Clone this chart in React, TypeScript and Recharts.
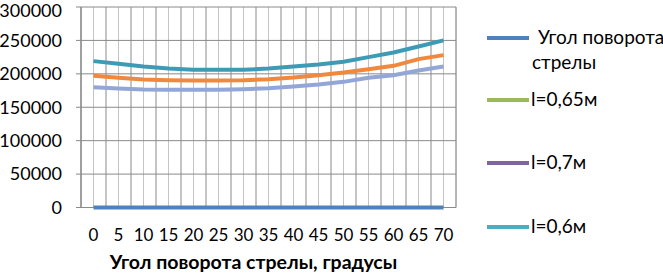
import { LineChart, Line, XAxis, YAxis, CartesianGrid } from 'recharts';

const angles = [0, 5, 10, 15, 20, 25, 30, 35, 40, 45, 50, 55, 60, 65, 70];
const rotation = [0, 0, 0, 0, 0, 0, 0, 0, 0, 0, 0, 0, 0, 0, 0];
const l06 = [219000, 215000, 211000, 208000, 206000, 206000, 206000, 208000, 211000, 214000, 218000, 225000, 232000, 241000, 250000];
const l065 = [197000, 194000, 191500, 190500, 190000, 190000, 190500, 192000, 194500, 198000, 202000, 207000, 212000, 222000, 228000];
const l07 = [180000, 178000, 176500, 176000, 176000, 176000, 177000, 178500, 181000, 184000, 188000, 194000, 198000, 205000, 211000];
const yTicks = [0, 50000, 100000, 150000, 200000, 250000, 300000];
const boundTicks = [-2.5, 2.5, 7.5, 12.5, 17.5, 22.5, 27.5, 32.5, 37.5, 42.5, 47.5, 52.5, 57.5, 62.5, 67.5, 72.5];

const legendNames = ['Угол поворота', 'стрелы', 'l=0,65м', 'l=0,7м', 'l=0,6м'];
const legendColors = ['#4F81BD', '#9BBB59', '#8064A2', '#4BACC6'];

const data = angles.map((a, i) => ({
  angle: a,
  rot: rotation[i],
  l06: l06[i],
  l065: l065[i],
  l07: l07[i],
}));

const FONT = 'Lato, "Open Sans", sans-serif';

const LegendBox = () => {
  const rows = [38, 100, 163, 227];
  return (
    <svg width={178} height={276} style={{ position: 'absolute', left: 485, top: 0 }}>
      {rows.map((y, i) => (
        <line key={i} x1={2} x2={44} y1={y} y2={y} stroke={legendColors[i]} strokeWidth={4} />
      ))}
      <text x={53} y={44} fontSize={19} fontFamily={FONT} fill="#000">{legendNames[0]}</text>
      <text x={47} y={69} fontSize={19} fontFamily={FONT} fill="#000">{legendNames[1]}</text>
      <text x={46} y={106} fontSize={19} fontFamily={FONT} fill="#000">{legendNames[2]}</text>
      <text x={46} y={169} fontSize={19} fontFamily={FONT} fill="#000">{legendNames[3]}</text>
      <text x={46} y={233} fontSize={19} fontFamily={FONT} fill="#000">{legendNames[4]}</text>
    </svg>
  );
};

export default function App() {
  return (
    <div style={{ position: 'absolute', left: 0, top: 0, width: 663, height: 276, background: '#fff', fontFamily: FONT }}>
      <LineChart width={663} height={276} data={data} margin={{ top: 7, right: 207, bottom: 4.5, left: 0 }}>
        <CartesianGrid xAxisId="cat" stroke="#c4c4c4" horizontal={false} strokeWidth={1} />
        <CartesianGrid xAxisId="bound" stroke="#8a8a8a" strokeWidth={1} />
        <XAxis
          xAxisId="bound"
          dataKey="angle"
          type="number"
          domain={[-2.5, 72.5]}
          ticks={boundTicks}
          allowDataOverflow
          height={0}
          tickFormatter={() => ''}
          tickSize={5}
          stroke="#8a8a8a"
        />
        <XAxis
          xAxisId="cat"
          dataKey="angle"
          type="category"
          scale="band"
          height={64}
          axisLine={false}
          tickLine={false}
          tickSize={0}
          tickMargin={21}
          interval={0}
          tick={{ fill: '#000', fontSize: 17, fontFamily: FONT }}
          label={{
            value: 'Угол поворота стрелы, градусы',
            position: 'insideBottom',
            offset: 3,
            dx: -15,
            style: { fill: '#000', fontSize: 19.5, fontWeight: 700, fontFamily: FONT },
          }}
        />
        <YAxis
          domain={[0, 300000]}
          ticks={yTicks}
          width={81}
          tickSize={5}
          tickMargin={14}
          stroke="#8a8a8a"
          tick={{ fill: '#000', fontSize: 18, fontFamily: FONT }}
        />
        <Line xAxisId="cat" type="linear" dataKey="rot" name="Угол поворота стрелы" stroke="#4F81BD" strokeWidth={4} dot={false} isAnimationActive={false} />
        <Line xAxisId="cat" type="linear" dataKey="l065" name="l=0,65м" stroke="#F0883E" strokeWidth={4} dot={false} isAnimationActive={false} />
        <Line xAxisId="cat" type="linear" dataKey="l07" name="l=0,7м" stroke="#92A6D8" strokeWidth={4} dot={false} isAnimationActive={false} />
        <Line xAxisId="cat" type="linear" dataKey="l06" name="l=0,6м" stroke="#3E9BB6" strokeWidth={4} dot={false} isAnimationActive={false} />
      </LineChart>
      <LegendBox />
    </div>
  );
}
